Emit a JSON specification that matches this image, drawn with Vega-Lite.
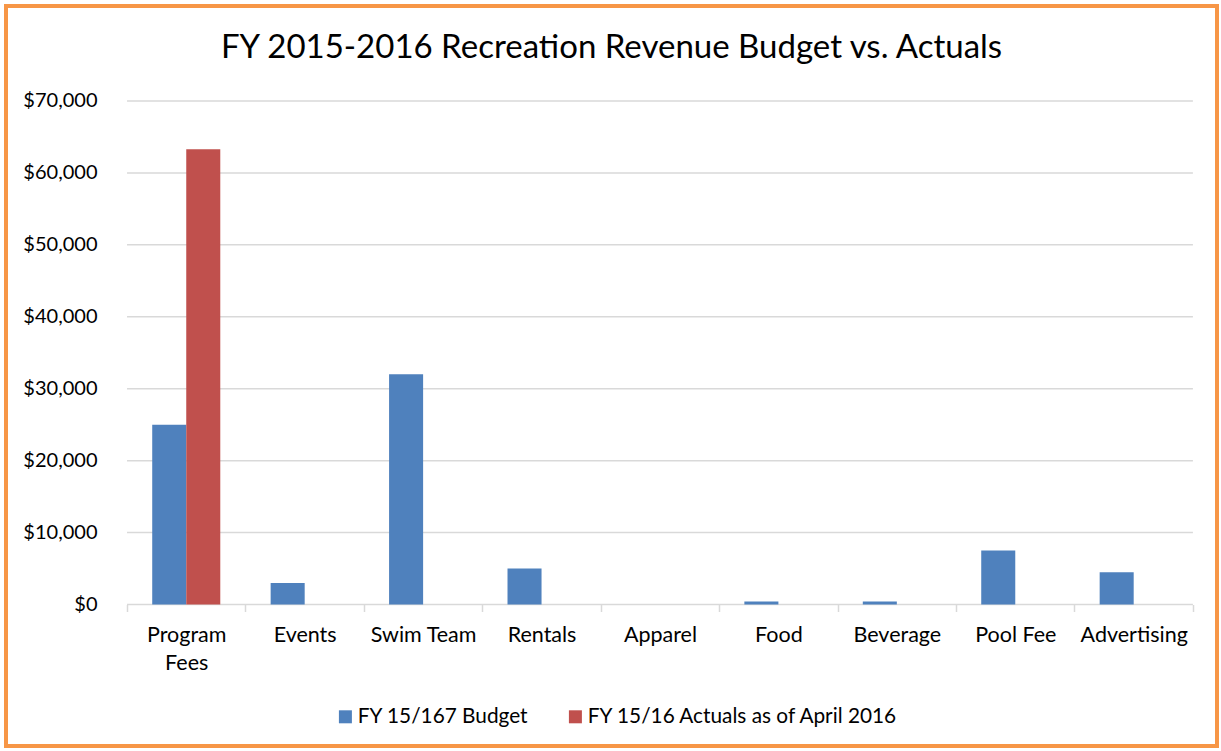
{
  "$schema": "https://vega.github.io/schema/vega-lite/v6.json",
  "width": 1211,
  "height": 740,
  "autosize": {"type": "none"},
  "padding": {"left": 6, "top": 6, "right": 4, "bottom": 5},
  "background": "white",
  "title": {
    "text": "FY 2015-2016 Recreation Revenue Budget vs. Actuals",
    "font": "Lato",
    "fontSize": 33,
    "fontWeight": "normal",
    "color": "#000000",
    "anchor": "middle",
    "frame": "group",
    "orient": "top",
    "offset": 0,
    "baseline": "alphabetic",
    "dy": 85
  },
  "config": {
    "view": {"stroke": "#F79646", "strokeWidth": 4},
    "font": "Lato"
  },
  "datasets": {
    "bars": [
      {"category": "Program Fees", "series": "FY 15/167 Budget", "value": 25000},
      {"category": "Program Fees", "series": "FY 15/16 Actuals as of April 2016", "value": 63300},
      {"category": "Events", "series": "FY 15/167 Budget", "value": 3000},
      {"category": "Swim Team", "series": "FY 15/167 Budget", "value": 32000},
      {"category": "Rentals", "series": "FY 15/167 Budget", "value": 5000},
      {"category": "Apparel", "series": "FY 15/167 Budget", "value": 0},
      {"category": "Food", "series": "FY 15/167 Budget", "value": 400},
      {"category": "Beverage", "series": "FY 15/167 Budget", "value": 400},
      {"category": "Pool Fee", "series": "FY 15/167 Budget", "value": 7500},
      {"category": "Advertising", "series": "FY 15/167 Budget", "value": 4500}
    ],
    "grid": [
      {"tick": 0}, {"tick": 10000}, {"tick": 20000}, {"tick": 30000},
      {"tick": 40000}, {"tick": 50000}, {"tick": 60000}, {"tick": 70000}
    ]
  },
  "layer": [
    {
      "data": {"name": "grid"},
      "mark": {"type": "rule", "color": "#D9D9D9", "strokeWidth": 1.5},
      "encoding": {
        "y": {"field": "tick", "type": "quantitative"},
        "x": {"datum": "Program Fees", "type": "nominal", "bandPosition": 0},
        "x2": {"datum": "Advertising", "bandPosition": 1}
      }
    },
    {
      "data": {"name": "bars"},
      "mark": {"type": "bar"},
      "encoding": {
        "x": {
          "field": "category",
          "type": "nominal",
          "sort": null,
          "scale": {
            "domain": ["Program Fees", "Events", "Swim Team", "Rentals", "Apparel", "Food", "Beverage", "Pool Fee", "Advertising"],
            "paddingInner": 0,
            "paddingOuter": 0.6127,
            "align": 0.834
          },
          "axis": {
            "title": null,
            "offset": -141.5,
            "domain": false,
            "grid": false,
            "ticks": true,
            "tickBand": "extent",
            "tickColor": "#D9D9D9",
            "tickWidth": 1.5,
            "tickSize": 7,
            "labelAngle": 0,
            "labelAlign": "center",
            "labelFont": "Lato",
            "labelFontSize": 21.5,
            "labelColor": "#000000",
            "labelPadding": 24,
            "labelLineHeight": 28,
            "labelLimit": 0,
            "labelExpr": "datum.label == 'Program Fees' ? ['Program', 'Fees'] : datum.label"
          }
        },
        "xOffset": {
          "field": "series",
          "type": "nominal",
          "scale": {
            "domain": ["FY 15/167 Budget", "FY 15/16 Actuals as of April 2016"],
            "paddingInner": 0,
            "paddingOuter": 0.74
          }
        },
        "y": {
          "field": "value",
          "type": "quantitative",
          "stack": null,
          "scale": {"domain": [-19672, 83207], "nice": false, "zero": false},
          "axis": {
            "title": null,
            "offset": -121,
            "values": [0, 10000, 20000, 30000, 40000, 50000, 60000, 70000],
            "format": "$,.0f",
            "domain": false,
            "ticks": false,
            "grid": false,
            "labelFont": "Lato",
            "labelFontSize": 20,
            "labelColor": "#000000",
            "labelPadding": 30
          }
        },
        "color": {
          "field": "series",
          "type": "nominal",
          "scale": {
            "domain": ["FY 15/167 Budget", "FY 15/16 Actuals as of April 2016"],
            "range": ["#4F81BD", "#C0504D"]
          },
          "legend": {
            "title": null,
            "orient": "none",
            "direction": "horizontal",
            "legendX": 329,
            "legendY": 700,
            "padding": 0,
            "symbolType": "square",
            "symbolSize": 169,
            "symbolStrokeWidth": 0,
            "symbolOpacity": 1,
            "labelFont": "Lato",
            "labelFontSize": 20.8,
            "labelColor": "#000000",
            "labelOffset": 2,
            "columnPadding": 36,
            "labelLimit": 0
          }
        }
      }
    }
  ]
}
